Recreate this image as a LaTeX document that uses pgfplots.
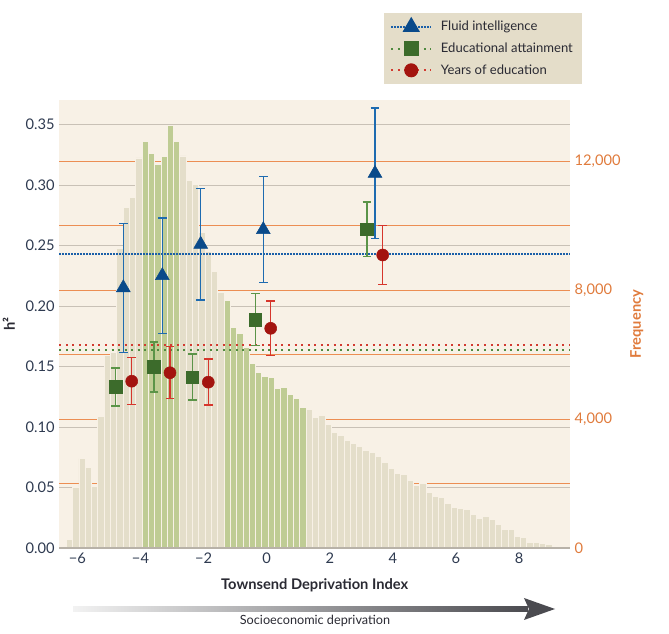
\documentclass[border=0pt]{standalone}
\usepackage{pgfplots}
\pgfplotsset{compat=1.18}
\usepackage{fontspec}
\setmainfont{Lato}
\definecolor{panel}{HTML}{F8F1E6}
\definecolor{barlight}{HTML}{E4DECA}
\definecolor{bargreen}{HTML}{BFCC94}
\definecolor{gridgray}{HTML}{C9C1B6}
\definecolor{gridorange}{HTML}{EC8E53}
\definecolor{basegray}{HTML}{B8B2A8}
\definecolor{ticktext}{HTML}{2E3A50}
\definecolor{tickorange}{HTML}{E07B3C}
\definecolor{fluidmark}{HTML}{0A4A8A}
\definecolor{fluiderr}{HTML}{1E6BB0}
\definecolor{fluidline}{HTML}{1A5FA8}
\definecolor{edumark}{HTML}{3C6B2B}
\definecolor{eduerr}{HTML}{5B9448}
\definecolor{eduline}{HTML}{4F8A3F}
\definecolor{yearmark}{HTML}{A3140F}
\definecolor{yearerr}{HTML}{D6362C}
\definecolor{yearline}{HTML}{D23A30}
\definecolor{legendbg}{HTML}{E4DDC9}
\definecolor{arrowdark}{HTML}{4B4B50}
\definecolor{arrowlight}{HTML}{F2F2F2}
\definecolor{labeltext}{HTML}{2A2A33}
\begin{document}
\begin{tikzpicture}
\pgfplotsset{
  base/.style={scale only axis, width=383pt, height=336.15pt,
    xmin=-6.574, xmax=9.613, at={(0pt,0pt)}, anchor=south west},
  fluiddot/.style={color=fluidline, line width=1.5pt, dash pattern=on 1.2pt off 1.05pt},
  edudot/.style={color=eduline, line width=1.5pt, dash pattern=on 1.5pt off 3.4pt},
  yeardot/.style={color=yearline, line width=1.5pt, dash pattern=on 1.5pt off 3.4pt},
}
% axis 1: background, gray grid, left and bottom tick labels
\begin{axis}[base, ymin=0, ymax=0.3704,
  axis background/.style={fill=panel},
  axis line style={draw=none},
  ytick={0,0.05,0.10,0.15,0.20,0.25,0.30,0.35},
  yticklabels={0.00,0.05,0.10,0.15,0.20,0.25,0.30,0.35},
  ymajorgrids, major grid style={color=gridgray, line width=1pt},
  xtick={-6,-4,-2,0,2,4,6,8},
  xticklabels={−6,−4,−2,0,2,4,6,8},
  tick style={draw=none},
  tick label style={font=\fontsize{11}{13}\selectfont, text=ticktext},
  ]
\end{axis}
% axis 2: frequency histogram
\begin{axis}[base, ymin=0, ymax=13898,
  axis line style={draw=none},
  hide x axis,
  scaled y ticks=false,
  ytick pos=right, yticklabel pos=right,
  ytick={0,2000,4000,6000,8000,10000,12000},
  yticklabels={0,,{4,000},,{8,000},,{12,000}},
  ymajorgrids, major grid style={color=gridorange, line width=1pt},
  tick style={draw=none},
  tick label style={font=\fontsize{11}{13}\selectfont, text=tickorange},
  ]
\addplot[ybar, bar width=0.2, bar shift=0pt, fill=barlight, draw=panel, line width=0.7pt] coordinates {
(-6.25,269) (-6.05,1881) (-5.85,2780) (-5.65,2501) (-5.45,1901) (-5.25,4092) (-5.05,5983) (-4.85,6055) (-4.65,9290) (-4.45,10550) (-4.25,10860) (-4.05,12100)
(-2.65,12162) (-2.45,11408) (-2.25,11274) (-2.05,9790) (-1.85,9210) (-1.65,8566) (-1.45,7915)
(1.35,4299) (1.55,4040) (1.75,4123) (1.95,3834) (2.15,3586) (2.35,3503) (2.55,3337) (2.75,3255) (2.95,3152) (3.15,3017) (3.35,2976) (3.55,2852) (3.75,2645) (3.95,2459) (4.15,2325) (4.35,2284) (4.55,2108) (4.75,1933) (4.95,2004) (5.15,1736) (5.35,1612) (5.55,1560) (5.75,1385) (5.95,1250) (6.15,1230) (6.35,1209) (6.55,1044) (6.75,930) (6.95,971) (7.15,878) (7.35,723) (7.55,568) (7.75,568) (7.95,362) (8.15,320) (8.35,186) (8.55,176) (8.75,134) (8.95,103) (9.15,52) (9.35,40)
};
\addplot[ybar, bar width=0.2, bar shift=0pt, fill=bargreen, draw=panel, line width=0.7pt] coordinates {
(-3.85,12617) (-3.65,12235) (-3.45,11904) (-3.25,12152) (-3.05,13113) (-2.85,12597)
(-1.25,7667) (-1.05,6830) (-0.85,6644) (-0.65,6231) (-0.45,5725) (-0.25,5456) (-0.05,5332) (0.15,5301) (0.35,4950) (0.55,4970) (0.75,4764) (0.95,4640) (1.15,4361)
};
\end{axis}
% axis 3: estimates
\begin{axis}[base, ymin=0, ymax=0.3704, hide axis, clip=false,
  legend style={at={(0.6358,1.1947)}, anchor=north west, fill=legendbg, draw=none,
    font=\fontsize{9.8}{12}\selectfont, text=labeltext, inner xsep=4.5pt, inner ysep=4pt,
    row sep=3.6pt, /tikz/every odd column/.append style={column sep=4.5pt}},
  legend cell align=left,
  legend image code/.code={
    \draw[mark repeat=2,mark phase=2] plot coordinates {(0pt,0pt) (15pt,0pt) (30pt,0pt)};
  },
  ]
\draw[basegray, line width=1.3pt] (rel axis cs:0,0) -- (rel axis cs:1,0);
\addlegendimage{fluiddot, mark=triangle*, mark size=6pt, mark options={solid, fill=fluidmark, draw=fluidmark}}
\addlegendentry{Fluid intelligence}
\addlegendimage{edudot, mark=square*, mark size=4.75pt, mark options={solid, fill=edumark, draw=edumark}}
\addlegendentry{Educational attainment}
\addlegendimage{yeardot, mark=*, mark size=4.5pt, mark options={solid, fill=yearmark, draw=yearmark}}
\addlegendentry{Years of education}
\addplot[fluiddot, forget plot] coordinates {(-6.574,0.2429) (9.613,0.2429)};
\addplot[edudot, forget plot] coordinates {(-6.574,0.1638) (9.613,0.1638)};
\addplot[yeardot, forget plot] coordinates {(-6.574,0.1677) (9.613,0.1677)};
\addplot[forget plot, only marks, mark=triangle*, mark size=6pt, color=fluidmark,
  error bars/.cd, y dir=both, y explicit,
  error bar style={draw=fluiderr, solid, line width=1.1pt},
  error mark options={rotate=90, draw=fluiderr, solid, line width=1.1pt, mark size=3.2pt}]
coordinates {
(-4.545,0.2152) +- (0,0.0533)
(-3.309,0.2252) +- (0,0.0477)
(-2.092,0.2511) +- (0,0.0460)
(-0.108,0.2632) +- (0,0.0438)
(3.433,0.3097) +- (0,0.0539)
};
\addplot[forget plot, only marks, mark=square*, mark size=4.75pt, color=edumark,
  error bars/.cd, y dir=both, y explicit,
  error bar style={draw=eduerr, solid, line width=1.1pt},
  error mark options={rotate=90, draw=eduerr, solid, line width=1.1pt, mark size=3.2pt}]
coordinates {
(-4.786,0.1333) +- (0,0.0158)
(-3.572,0.1497) +- (0,0.0206)
(-2.358,0.1413) +- (0,0.0190)
(-0.361,0.1890) +- (0,0.0213)
(3.179,0.2635) +- (0,0.0226)
};
\addplot[forget plot, only marks, mark=*, mark size=4.5pt, color=yearmark,
  error bars/.cd, y dir=both, y explicit,
  error bar style={draw=yearerr, solid, line width=1.1pt},
  error mark options={rotate=90, draw=yearerr, solid, line width=1.1pt, mark size=3.2pt}]
coordinates {
(-4.279,0.1380) +- (0,0.0194)
(-3.065,0.1450) +- (0,0.0215)
(-1.851,0.1372) +- (0,0.0190)
(0.127,0.1817) +- (0,0.0226)
(3.677,0.2423) +- (0,0.0242)
};
\end{axis}
% labels
\node[anchor=base, font=\fontsize{11}{13}\selectfont\bfseries, text=labeltext] at (191.55pt,-31.35pt) {Townsend Deprivation Index};
\node[rotate=90, font=\fontsize{11}{13}\selectfont\bfseries, text=tickorange] at (433.05pt,168.15pt) {Frequency};
\node[rotate=90, anchor=north, inner sep=1pt, font=\fontsize{11}{13}\selectfont\bfseries, text=labeltext] at (-43.5pt,168.15pt) {h²};
% arrow
\shade[left color=arrowlight, right color=arrowdark] (10.3pt,-47.5pt) rectangle (351.5pt,-43.7pt);
\fill[arrowdark] (348.5pt,-37.35pt) -- (371.8pt,-45.6pt) -- (348.5pt,-53.85pt) -- (352.25pt,-45.6pt) -- cycle;
\node[font=\fontsize{9.5}{11}\selectfont, text=labeltext] at (191.8pt,-54.6pt) {Socioeconomic deprivation};
\pgfresetboundingbox
\useasboundingbox (-44.475pt,-64.35pt) rectangle (457.275pt,411.15pt);
\end{tikzpicture}
\end{document}
